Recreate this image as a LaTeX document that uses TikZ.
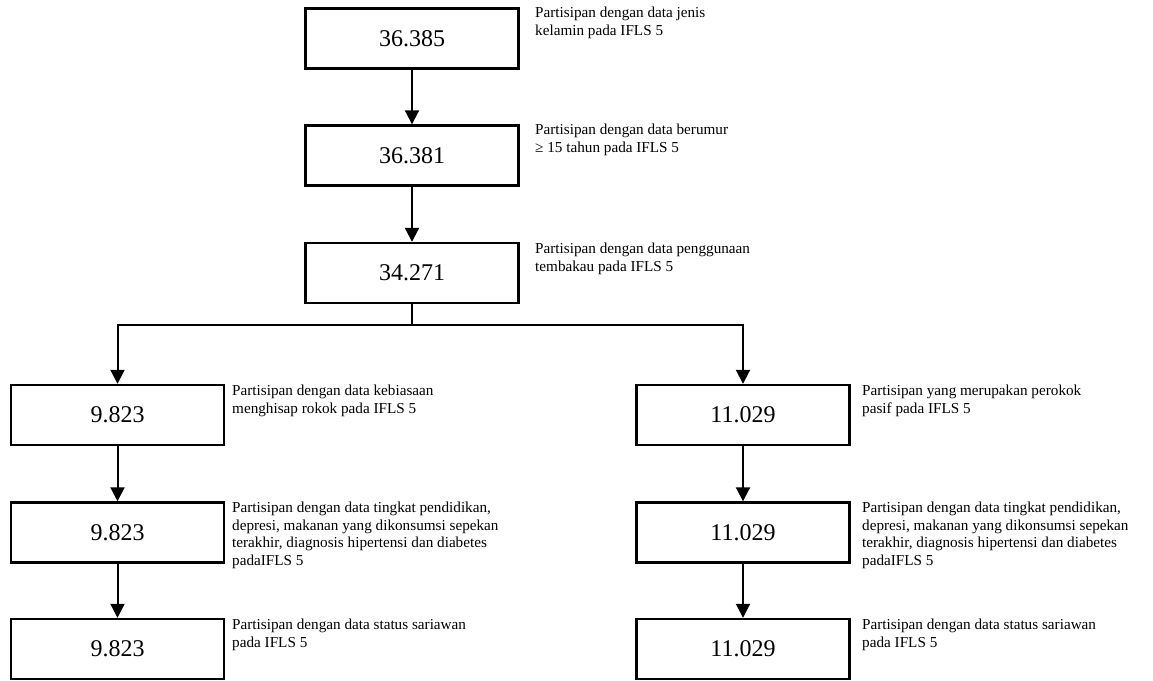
\documentclass[tikz,border=0pt]{standalone}
\usepackage{fontspec}
\setmainfont{Liberation Serif}
\usetikzlibrary{arrows.meta}
\begin{document}
\begin{tikzpicture}[x=1pt,y=-1pt,
  box/.style={draw=black, line width=2.4pt, rectangle, minimum width=213pt, minimum height=60pt, inner sep=0pt, font=\fontsize{24}{28}\selectfont},
  lab/.style={anchor=north west, align=left, inner sep=0pt, font=\fontsize{15.2}{17.5}\selectfont},
  arr/.style={line width=2pt, -{Triangle[width=14pt,length=14pt]}},
  ln/.style={line width=2pt}]
\useasboundingbox (0,0) rectangle (1153,680);
\node[box] (b1) at (412,38.5) {36.385};
\node[box] (b2) at (412,155.5) {36.381};
\node[box] (b3) at (412,273) {34.271};
\node[box] (l1) at (117.5,415) {9.823};
\node[box] (l2) at (117.5,532.5) {9.823};
\node[box] (l3) at (117.5,649) {9.823};
\node[box] (r1) at (743,415) {11.029};
\node[box] (r2) at (743,532.5) {11.029};
\node[box] (r3) at (743,649) {11.029};
\coordinate (br) at (412,325);
\draw[arr] (b1) -- (b2);
\draw[arr] (b2) -- (b3);
\draw[ln] (b3.south) -- (br);
\draw[arr] (br) -| (l1.north);
\draw[arr] (br) -| (r1.north);
\draw[arr] (l1) -- (l2);
\draw[arr] (l2) -- (l3);
\draw[arr] (r1) -- (r2);
\draw[arr] (r2) -- (r3);
\node[lab] (t1) at (535,7) {Partisipan dengan data jenis\\kelamin pada IFLS 5};
\node[lab] (t2) at (535,124) {Partisipan dengan data berumur\\≥ 15 tahun pada IFLS 5};
\node[lab] (t3) at (535,243) {Partisipan dengan data penggunaan\\tembakau pada IFLS 5};
\node[lab] (tl1) at (232,385) {Partisipan dengan data kebiasaan\\menghisap rokok pada IFLS 5};
\node[lab] (tl2) at (232,502) {Partisipan dengan data tingkat pendidikan,\\depresi, makanan yang dikonsumsi sepekan\\terakhir, diagnosis hipertensi dan diabetes\\padaIFLS 5};
\node[lab] (tl3) at (232,619) {Partisipan dengan data status sariawan\\pada IFLS 5};
\node[lab] (tr1) at (862,385) {Partisipan yang merupakan perokok\\pasif pada IFLS 5};
\node[lab] (tr2) at (862,502) {Partisipan dengan data tingkat pendidikan,\\depresi, makanan yang dikonsumsi sepekan\\terakhir, diagnosis hipertensi dan diabetes\\padaIFLS 5};
\node[lab] (tr3) at (862,619) {Partisipan dengan data status sariawan\\pada IFLS 5};
\end{tikzpicture}
\end{document}
